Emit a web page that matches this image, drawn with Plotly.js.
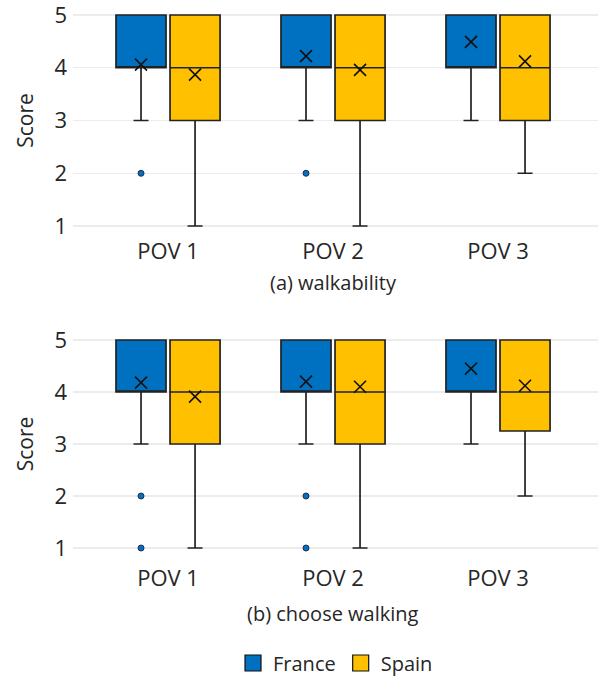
<!DOCTYPE html>
<html><head><meta charset="utf-8">
<script src="https://cdn.plot.ly/plotly-3.0.1.min.js"></script>
<style>html,body{margin:0;padding:0;background:#fff}</style>
</head><body><div id="chart" style="width:600px;height:677px"></div>
<script>
// ---- data ----
const categories = ['POV 1', 'POV 2', 'POV 3'];
const countries = ['France', 'Spain'];

// (a) walkability
const walkFranceLow = [3, 3, 3];
const walkFranceQ1 = [4, 4, 4];
const walkFranceMedian = [4, 4, 4];
const walkFranceQ3 = [5, 5, 5];
const walkFranceHigh = [5, 5, 5];
const walkFranceMean = [4.06, 4.22, 4.49];
const walkFranceOutlierCat = [0, 1];
const walkFranceOutlierVal = [2, 2];

const walkSpainLow = [1, 1, 2];
const walkSpainQ1 = [3, 3, 3];
const walkSpainMedian = [4, 4, 4];
const walkSpainQ3 = [5, 5, 5];
const walkSpainHigh = [5, 5, 5];
const walkSpainMean = [3.87, 3.96, 4.12];

// (b) choose walking
const chooseFranceLow = [3, 3, 3];
const chooseFranceQ1 = [4, 4, 4];
const chooseFranceMedian = [4, 4, 4];
const chooseFranceQ3 = [5, 5, 5];
const chooseFranceHigh = [5, 5, 5];
const chooseFranceMean = [4.18, 4.2, 4.45];
const chooseFranceOutlierCat = [0, 0, 1, 1];
const chooseFranceOutlierVal = [2, 1, 2, 1];

const chooseSpainLow = [1, 1, 2];
const chooseSpainQ1 = [3, 3, 3.25];
const chooseSpainMedian = [4, 4, 4];
const chooseSpainQ3 = [5, 5, 5];
const chooseSpainHigh = [5, 5, 5];
const chooseSpainMean = [3.91, 4.1, 4.12];

const yTicks = [1, 2, 3, 4, 5];

// ---- styling ----
const colors = {France: '#0070C0', Spain: '#FFC000'};
const textColor = '#262626';
const fontFam = '"Open Sans", "Noto Sans", sans-serif';
const BOXGAP = 0.345, BOXGROUPGAP = 0.074;
const idx = categories.map((c, i) => i);
function offset(t) { return (t - 0.5) * 0.5 * (1 - BOXGAP); }

function boxTrace(name, low, q1, med, q3, high, xa, ya) {
  return {
    type: 'box', name: name, x: idx, q1: q1, median: med, q3: q3,
    lowerfence: low, upperfence: high,
    xaxis: xa, yaxis: ya, showlegend: false, offsetgroup: name,
    fillcolor: colors[name], line: {color: '#222222', width: 1.7},
    whiskerwidth: 0.3, boxpoints: false, hoverinfo: 'y'
  };
}
function meanTrace(t, means, xa, ya) {
  return {
    type: 'scatter', mode: 'markers', x: idx.map(i => i + offset(t)), y: means,
    xaxis: xa, yaxis: ya, showlegend: false, cliponaxis: false,
    marker: {symbol: 'x-thin', size: 12, line: {color: '#111', width: 1.6}}
  };
}
function outlierTrace(t, cats, vals, color, xa, ya) {
  return {
    type: 'scatter', mode: 'markers', x: cats.map(i => i + offset(t)), y: vals,
    xaxis: xa, yaxis: ya, showlegend: false, cliponaxis: false,
    marker: {symbol: 'circle', size: 6, color: color, line: {color: '#1f2f4f', width: 1}}
  };
}

const traces = [
  boxTrace('France', walkFranceLow, walkFranceQ1, walkFranceMedian, walkFranceQ3, walkFranceHigh, 'x', 'y'),
  boxTrace('Spain', walkSpainLow, walkSpainQ1, walkSpainMedian, walkSpainQ3, walkSpainHigh, 'x', 'y'),
  boxTrace('France', chooseFranceLow, chooseFranceQ1, chooseFranceMedian, chooseFranceQ3, chooseFranceHigh, 'x2', 'y2'),
  boxTrace('Spain', chooseSpainLow, chooseSpainQ1, chooseSpainMedian, chooseSpainQ3, chooseSpainHigh, 'x2', 'y2'),
  meanTrace(0, walkFranceMean, 'x', 'y'),
  meanTrace(1, walkSpainMean, 'x', 'y'),
  meanTrace(0, chooseFranceMean, 'x2', 'y2'),
  meanTrace(1, chooseSpainMean, 'x2', 'y2'),
  outlierTrace(0, walkFranceOutlierCat, walkFranceOutlierVal, colors.France, 'x', 'y'),
  outlierTrace(0, chooseFranceOutlierCat, chooseFranceOutlierVal, colors.France, 'x2', 'y2'),
];
countries.forEach(c => traces.push({
  type: 'scatter', mode: 'markers', x: [null], y: [null], name: c,
  xaxis: 'x2', yaxis: 'y2', showlegend: true,
  marker: {symbol: 'square', size: 16, color: colors[c], line: {color: '#111', width: 1.2}}
}));

const H = 677;
function dom(topPx, botPx) { return [(H - botPx) / H, (H - topPx) / H]; }

const xBase = {
  type: 'linear', range: [-0.576, 2.606], tickvals: idx, ticktext: categories,
  showgrid: false, zeroline: false, showline: false, ticks: '',
  tickfont: {size: 22, color: textColor, family: fontFam}, fixedrange: true
};
const yBase = {
  range: [0.96, 5.04], tickvals: yTicks, showgrid: true, gridcolor: '#ececec', gridwidth: 1.3,
  zeroline: false, showline: false, ticks: '', ticklabeloverflow: 'allow', ticklabelstandoff: 5,
  tickfont: {size: 22, color: textColor, family: fontFam},
  title: {text: 'Score', font: {size: 21, color: textColor, family: fontFam}, standoff: 15}
};

const layout = {
  width: 600, height: 677,
  margin: {l: 73, r: 2, t: 0, b: 0, autoexpand: false},
  paper_bgcolor: '#fff', plot_bgcolor: '#fff',
  font: {family: fontFam, color: textColor},
  boxmode: 'group', boxgap: BOXGAP, boxgroupgap: BOXGROUPGAP,
  xaxis: Object.assign({}, xBase, {anchor: 'y', ticklabelstandoff: 8}),
  yaxis: Object.assign({}, yBase, {domain: dom(12.9, 228.1), anchor: 'x'}),
  xaxis2: Object.assign({}, xBase, {anchor: 'y2', ticklabelstandoff: 13}),
  yaxis2: Object.assign({}, yBase, {domain: dom(337.9, 550.1), anchor: 'x2'}),
  showlegend: true,
  legend: {orientation: 'h', x: 0.5, xanchor: 'center', y: (H - 663) / H, yanchor: 'middle',
           font: {size: 20, color: textColor, family: fontFam}, itemwidth: 30, tracegroupgap: 0},
  annotations: [
    {text: '(a) walkability', xref: 'x', yref: 'paper', x: 1, y: (H - 282) / H,
     showarrow: false, xanchor: 'center', yanchor: 'middle', font: {size: 20, color: textColor, family: fontFam}},
    {text: '(b) choose walking', xref: 'x2', yref: 'paper', x: 1, y: (H - 613) / H,
     showarrow: false, xanchor: 'center', yanchor: 'middle', font: {size: 20, color: textColor, family: fontFam}}
  ]
};

Plotly.newPlot('chart', traces, layout, {displayModeBar: false, staticPlot: true});
</script></body></html>
